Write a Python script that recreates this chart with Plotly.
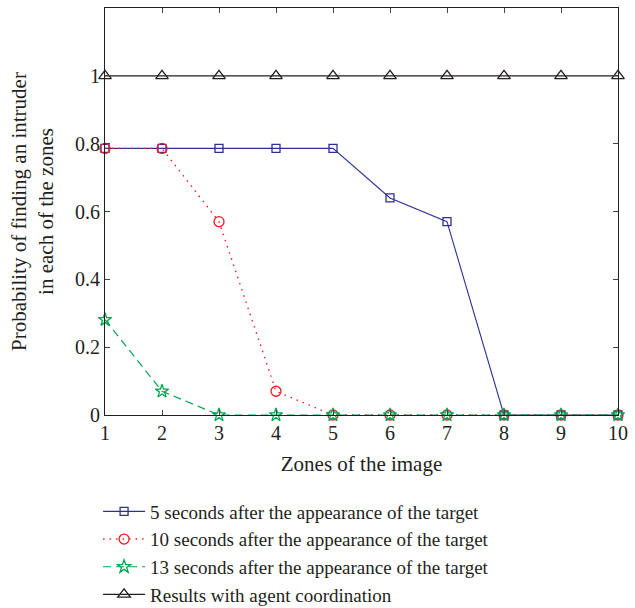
import plotly.graph_objects as go

zones = [1, 2, 3, 4, 5, 6, 7, 8, 9, 10]
s5 = [0.786, 0.786, 0.786, 0.786, 0.786, 0.640, 0.570, 0, 0, 0]
s10 = [0.786, 0.786, 0.570, 0.070, 0, 0, 0, 0, 0, 0]
s13 = [0.281, 0.070, 0, 0, 0, 0, 0, 0, 0, 0]
coord = [1, 1, 1, 1, 1, 1, 1, 1, 1, 1]

names = [
    "5 seconds after the appearance of the target",
    "10 seconds after the appearance of the target",
    "13 seconds after the appearance of the target",
    "Results with agent coordination",
]
yticks = [0, 0.2, 0.4, 0.6, 0.8, 1]
yticklabels = ["0", "0.2", "0.4", "0.6", "0.8", "1"]

FONT = "Liberation Serif, Times New Roman, serif"
TXT = "#231f20"
fig = go.Figure()
styles = [
    (s5, "#2e3192", "solid", "square-open", 8, 1.1),
    (s10, "#ed1c24", "1.5px,5px", "circle-open", 10, 1.4),
    (s13, "#00a651", "8px,5px", "star-open", 10, 1.2),
    (coord, TXT, "solid", "triangle-up-open", 11, 1.2),
]
for i, (ys, col, dash, sym, ms, lw) in enumerate(styles):
    fig.add_trace(go.Scatter(
        x=zones, y=ys, name=names[i], mode="lines+markers",
        line=dict(color=col, width=lw, dash=dash),
        marker=dict(symbol=sym, size=ms, color=col, line=dict(width=1.3, color=col)),
        cliponaxis=False,
    ))

fig.update_layout(
    width=635, height=608,
    margin=dict(l=105, r=11, t=7, b=193),
    paper_bgcolor="white", plot_bgcolor="white",
    font=dict(family=FONT, size=20, color=TXT),
    showlegend=True,
    legend=dict(x=-0.0135, xref="paper", y=0.19, yref="container",
                xanchor="left", yanchor="top",
                font=dict(family=FONT, size=19, color=TXT),
                itemwidth=42,
                bgcolor="rgba(0,0,0,0)"),
    xaxis=dict(range=[1, 10], tickvals=zones, ticks="inside", ticklen=5,
               tickfont=dict(size=20),
               showline=True, linecolor=TXT, linewidth=1.2, mirror="ticks",
               showgrid=False, zeroline=False,
               title=dict(text="Zones of the image", standoff=13,
                          font=dict(family=FONT, size=21))),
    yaxis=dict(range=[0, 1.2], tickvals=yticks, ticktext=yticklabels,
               ticks="inside", ticklen=5, tickfont=dict(size=20),
               showline=True, linecolor=TXT, linewidth=1.2, mirror="ticks",
               showgrid=False, zeroline=False,
               title=dict(text="Probability of finding an intruder<br>in each of the zones",
                          standoff=15, font=dict(family=FONT, size=21))),
)
fig.write_html("out.html")
